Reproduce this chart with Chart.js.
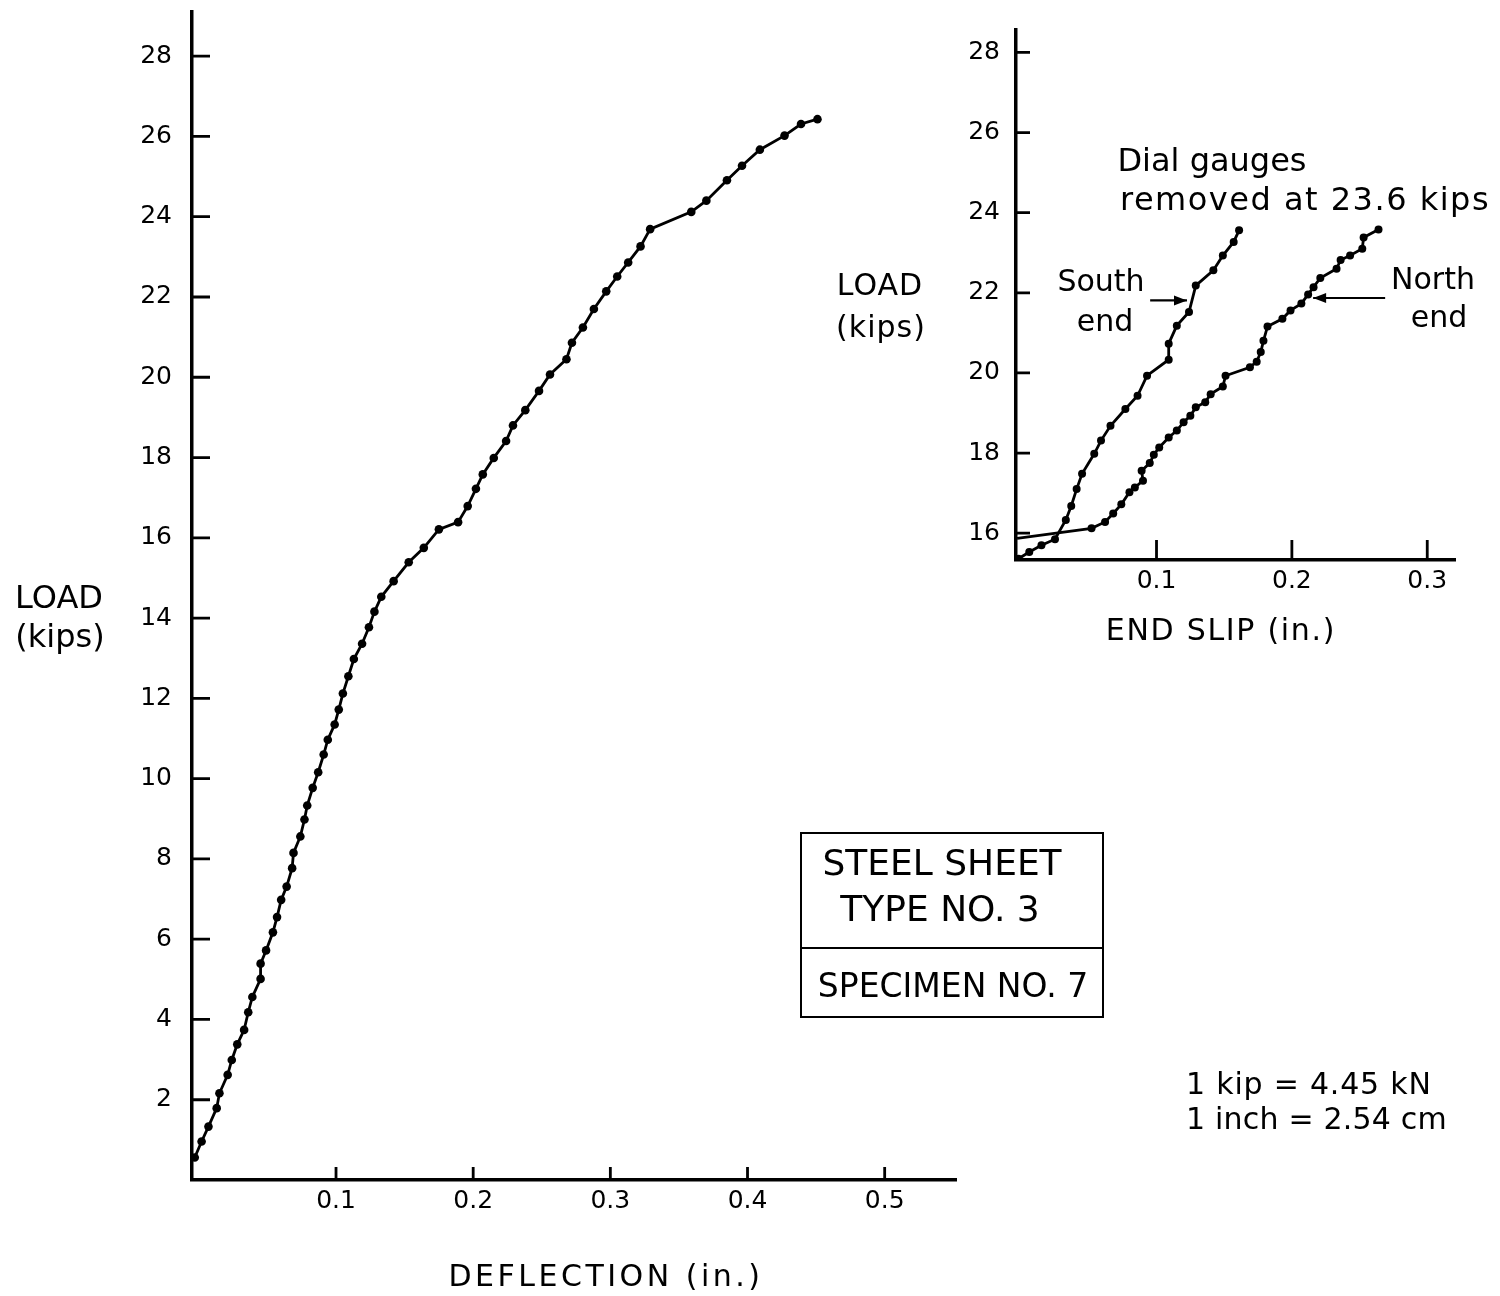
<!DOCTYPE html>
<html>
<head>
<meta charset="utf-8">
<title>Load - deflection, specimen no. 7</title>
<script src="https://cdn.jsdelivr.net/npm/chart.js@4.4.0/dist/chart.umd.min.js"></script>
<style>
  html, body { margin: 0; padding: 0; background: #fff; }
  body { width: 1500px; height: 1296px; position: relative; overflow: hidden;
         font-family: 'DejaVu Sans', sans-serif; color: #000; }
  #mainChart { position: absolute; left: 0; top: 0; }
  #insetChart { position: absolute; left: 940px; top: 0; }
  .lbl { position: absolute; white-space: nowrap; line-height: 1; transform: translate(-50%, -50%); }
  .left { transform: translate(0, -50%); }
  #specBox { position: absolute; left: 800px; top: 832px; width: 300px; height: 182px;
             border: 2.5px solid #000; }
  #specBox .divider { position: absolute; left: 0; right: 0; top: 113px; border-top: 2.5px solid #000; }
</style>
</head>
<body>
<canvas id="mainChart" width="1500" height="1296"></canvas>
<canvas id="insetChart" width="560" height="646"></canvas>

<div class="lbl" style="left:59px; top:597px; font-size:32px;">LOAD</div>
<div class="lbl" style="left:60px; top:636px; font-size:32px;">(kips)</div>
<div class="lbl" style="left:606px; top:1276px; font-size:30px; letter-spacing:3.5px;">DEFLECTION (in.)</div>

<div class="lbl" style="left:880px; top:285px; font-size:30px; letter-spacing:1px;">LOAD</div>
<div class="lbl" style="left:881px; top:327px; font-size:30px; letter-spacing:1px;">(kips)</div>
<div class="lbl" style="left:1221px; top:630px; font-size:30px; letter-spacing:1.7px;">END SLIP (in.)</div>

<div class="lbl" style="left:1212px; top:160px; font-size:32px;">Dial gauges</div>
<div class="lbl" style="left:1305px; top:199px; font-size:32px; letter-spacing:1.5px;">removed at 23.6 kips</div>
<div class="lbl" style="left:1101px; top:281px; font-size:30px;">South</div>
<div class="lbl" style="left:1105px; top:321px; font-size:30px;">end</div>
<div class="lbl" style="left:1433px; top:279px; font-size:30px;">North</div>
<div class="lbl" style="left:1439px; top:317px; font-size:30px;">end</div>

<div id="specBox"><div class="divider"></div></div>
<div class="lbl" style="left:942px; top:863px; font-size:36px;">STEEL SHEET</div>
<div class="lbl" style="left:940px; top:909px; font-size:36px;">TYPE NO. 3</div>
<div class="lbl" style="left:953px; top:985px; font-size:33px;">SPECIMEN NO. 7</div>

<div class="lbl left" style="left:1186px; top:1084px; font-size:30px; letter-spacing:0.8px;">1 kip = 4.45 kN</div>
<div class="lbl left" style="left:1186px; top:1119px; font-size:30px; letter-spacing:0.2px;">1 inch = 2.54 cm</div>

<script>
// Main curve: mid-span deflection (in.) vs load (kips)
const mainDeflection = [
  -0.003, 0.002, 0.007, 0.013, 0.015, 0.021, 0.024, 0.028, 0.033, 0.036,
  0.039, 0.045, 0.045, 0.049, 0.054, 0.057, 0.060, 0.064, 0.068, 0.069,
  0.074, 0.077, 0.079, 0.083, 0.087, 0.091, 0.094, 0.099, 0.102, 0.105,
  0.109, 0.113, 0.119, 0.124, 0.128, 0.133, 0.142, 0.153, 0.164, 0.175,
  0.189, 0.196, 0.202, 0.207, 0.215, 0.224, 0.229, 0.238, 0.248, 0.256,
  0.268, 0.272, 0.280, 0.288, 0.297, 0.305, 0.313, 0.322, 0.329, 0.359,
  0.370, 0.385, 0.396, 0.409, 0.427, 0.439, 0.451
];
const mainLoad = [
  0.56, 0.96, 1.33, 1.79, 2.16, 2.62, 2.99, 3.38, 3.74, 4.18,
  4.56, 5.01, 5.39, 5.72, 6.17, 6.55, 6.98, 7.31, 7.77, 8.15,
  8.56, 8.98, 9.33, 9.77, 10.16, 10.60, 10.97, 11.35, 11.72, 12.12,
  12.55, 12.98, 13.36, 13.77, 14.16, 14.53, 14.92, 15.39, 15.75, 16.21,
  16.39, 16.79, 17.22, 17.58, 17.99, 18.41, 18.80, 19.18, 19.66, 20.07,
  20.45, 20.86, 21.24, 21.70, 22.14, 22.51, 22.86, 23.26, 23.69, 24.12,
  24.40, 24.91, 25.27, 25.67, 26.02, 26.31, 26.43
];

// Inset: end slip (in.) vs load (kips)
const southSlip = [
  -0.002, 0.006, 0.015, 0.025, 0.033, 0.037, 0.041, 0.045, 0.054, 0.059,
  0.066, 0.077, 0.086, 0.093, 0.109, 0.109, 0.115, 0.124, 0.129, 0.142,
  0.149, 0.157, 0.161
];
const southLoad = [
  15.36, 15.53, 15.70, 15.85, 16.33, 16.68, 17.10, 17.48, 17.98, 18.31,
  18.68, 19.10, 19.43, 19.93, 20.33, 20.73, 21.18, 21.52, 22.18, 22.56,
  22.93, 23.27, 23.56
];
const northSlip = [
  -0.003, 0.052, 0.062, 0.068, 0.074, 0.080, 0.084, 0.090, 0.089, 0.095,
  0.098, 0.102, 0.109, 0.115, 0.120, 0.125, 0.129, 0.136, 0.140, 0.149,
  0.151, 0.169, 0.174, 0.177, 0.179, 0.182, 0.193, 0.199, 0.207, 0.212,
  0.216, 0.221, 0.233, 0.236, 0.243, 0.252, 0.253, 0.264
];
const northLoad = [
  15.87, 16.12, 16.28, 16.49, 16.72, 17.02, 17.14, 17.31, 17.56, 17.75,
  17.96, 18.14, 18.39, 18.56, 18.77, 18.93, 19.14, 19.27, 19.47, 19.66,
  19.93, 20.14, 20.28, 20.52, 20.80, 21.16, 21.35, 21.56, 21.73, 21.96,
  22.14, 22.37, 22.60, 22.82, 22.93, 23.10, 23.38, 23.58
];

// Tick labels
const deflectionTicks = [0.1, 0.2, 0.3, 0.4, 0.5];
const mainLoadTicks = [2, 4, 6, 8, 10, 12, 14, 16, 18, 20, 22, 24, 26, 28];
const slipTicks = [0.1, 0.2, 0.3];
const insetLoadTicks = [16, 18, 20, 22, 24, 26, 28];

const FONT = 'DejaVu Sans';

function toPoints(xs, ys) {
  return xs.map((x, i) => ({ x: x, y: ys[i] }));
}

// tick marks drawn inside the plot, as on the drawing
const inwardTicks = {
  id: 'inwardTicks',
  afterDatasetsDraw(chart, args, opts) {
    const { ctx, chartArea, scales } = chart;
    ctx.save();
    ctx.strokeStyle = '#000';
    ctx.lineWidth = opts.width;
    ctx.beginPath();
    scales.x.ticks.forEach(t => {
      const px = scales.x.getPixelForValue(t.value);
      ctx.moveTo(px, chartArea.bottom);
      ctx.lineTo(px, chartArea.bottom - opts.x);
    });
    scales.y.ticks.forEach(t => {
      const py = scales.y.getPixelForValue(t.value);
      ctx.moveTo(chartArea.left, py);
      ctx.lineTo(chartArea.left + opts.y, py);
    });
    ctx.stroke();
    ctx.restore();
  }
};

// leader arrows for "South end" / "North end"
const leaderArrows = {
  id: 'leaderArrows',
  afterDatasetsDraw(chart, args, opts) {
    if (!opts.arrows) return;
    const { ctx, scales } = chart;
    ctx.save();
    ctx.strokeStyle = '#000';
    ctx.fillStyle = '#000';
    ctx.lineWidth = 2.2;
    opts.arrows.forEach(a => {
      const x1 = scales.x.getPixelForValue(a.from[0]);
      const y1 = scales.y.getPixelForValue(a.from[1]);
      const x2 = scales.x.getPixelForValue(a.to[0]);
      const y2 = scales.y.getPixelForValue(a.to[1]);
      const ang = Math.atan2(y2 - y1, x2 - x1);
      ctx.beginPath();
      ctx.moveTo(x1, y1);
      ctx.lineTo(x2, y2);
      ctx.stroke();
      ctx.beginPath();
      ctx.moveTo(x2, y2);
      ctx.lineTo(x2 - 13 * Math.cos(ang) + 5 * Math.sin(ang), y2 - 13 * Math.sin(ang) - 5 * Math.cos(ang));
      ctx.lineTo(x2 - 13 * Math.cos(ang) - 5 * Math.sin(ang), y2 - 13 * Math.sin(ang) + 5 * Math.cos(ang));
      ctx.closePath();
      ctx.fill();
    });
    ctx.restore();
  }
};

function axis(min, max, tickList, opts) {
  return {
    type: 'linear',
    min: min,
    max: max,
    grid: { display: false, drawTicks: false },
    border: { color: '#000', width: 3.5 },
    ticks: {
      color: '#000',
      font: { family: FONT, size: 25 },
      padding: opts.padding,
      callback: v => String(v)
    },
    afterBuildTicks: s => { s.ticks = tickList.map(v => ({ value: v })); },
    afterFit: s => {
      if (opts.width) s.width = opts.width;
      if (opts.height) s.height = opts.height;
      s.paddingTop = 0; s.paddingBottom = 0;
      s.paddingLeft = 0; s.paddingRight = 0;
    }
  };
}

function lineSet(points, radius) {
  return {
    data: points,
    showLine: true,
    borderColor: '#000',
    borderWidth: 2.8,
    pointRadius: radius,
    pointBackgroundColor: '#000',
    pointBorderWidth: 0,
    pointHoverRadius: radius,
    tension: 0
  };
}

// Main chart
new Chart(document.getElementById('mainChart'), {
  type: 'scatter',
  data: { datasets: [lineSet(toPoints(mainDeflection, mainLoad), 4.3)] },
  options: {
    responsive: false,
    animation: false,
    layout: { padding: { left: 0, right: 544, top: 12, bottom: 0 } },
    plugins: {
      legend: { display: false },
      tooltip: { enabled: false },
      inwardTicks: { x: 13, y: 18, width: 2.8 }
    },
    scales: {
      x: axis(-0.005, 0.552, deflectionTicks, { padding: 6, height: 116 }),
      y: axis(0, 29.1, mainLoadTicks, { padding: 20, width: 192 })
    }
  },
  plugins: [inwardTicks]
});

// Inset: end slip
new Chart(document.getElementById('insetChart'), {
  type: 'scatter',
  data: {
    datasets: [
      lineSet(toPoints(southSlip, southLoad), 4),
      lineSet(toPoints(northSlip, northLoad), c => c.dataIndex === 0 ? 0 : 4)
    ]
  },
  options: {
    responsive: false,
    animation: false,
    layout: { padding: { left: 0, right: 45, top: 30, bottom: 0 } },
    plugins: {
      legend: { display: false },
      tooltip: { enabled: false },
      inwardTicks: { x: 20, y: 14, width: 2.8 },
      leaderArrows: {
        arrows: [
          { from: [0.0953, 21.81], to: [0.1225, 21.81] },
          { from: [0.2689, 21.87], to: [0.2157, 21.87] }
        ]
      }
    },
    scales: {
      x: axis(-0.0038, 0.3205, slipTicks, { padding: 6, height: 86 }),
      y: axis(15.33, 28.56, insetLoadTicks, { padding: 16, width: 76 })
    }
  },
  plugins: [inwardTicks, leaderArrows]
});
</script>
</body>
</html>
